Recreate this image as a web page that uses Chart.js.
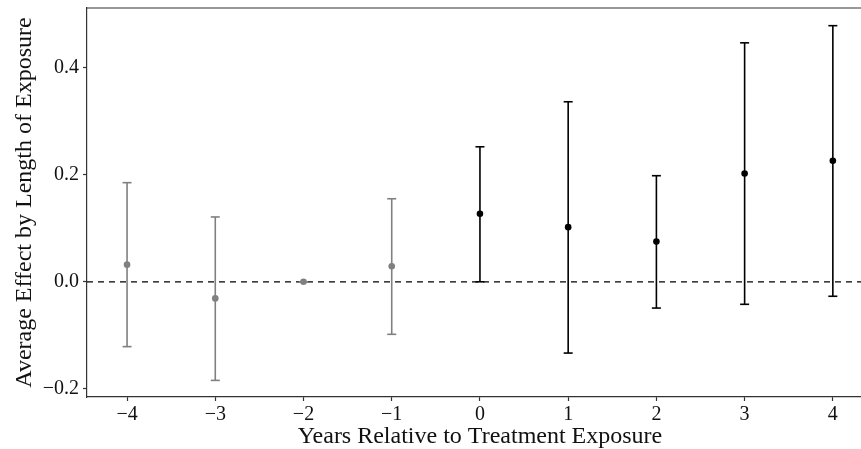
<!DOCTYPE html>
<html>
<head>
<meta charset="utf-8">
<script src="https://cdn.jsdelivr.net/npm/chart.js@4/dist/chart.umd.min.js"></script>
<style>
  html, body { margin: 0; padding: 0; background: #ffffff; overflow: hidden; }
  #wrap { width: 879px; height: 449px; position: relative; }
</style>
</head>
<body>
<div id="wrap"><canvas id="c"></canvas></div>
<script>
// ---- data ----
const years     = [-4, -3, -2, -1, 0, 1, 2, 3, 4];
const estimates = [0.032, -0.031, 0.000, 0.029, 0.127, 0.102, 0.075, 0.202, 0.226];
const lower     = [-0.121, -0.184, 0.000, -0.098, 0.000, -0.133, -0.049, -0.042, -0.027];
const upper     = [0.185, 0.121, 0.000, 0.155, 0.252, 0.336, 0.198, 0.446, 0.478];
const period    = ['pre', 'pre', 'pre', 'pre', 'post', 'post', 'post', 'post', 'post'];
const xTickValues = [-4, -3, -2, -1, 0, 1, 2, 3, 4];
const yTickValues = [-0.2, 0.0, 0.2, 0.4];
const xLabel = 'Years Relative to Treatment Exposure';
const yLabel = 'Average Effect by Length of Exposure';

// ---- styling ----
const GRAY = '#808080';
const BLACK = '#000000';
const AXIS = '#333333';
const FONT = "'Liberation Serif', 'Times New Roman', serif";
const X_MIN = -4.454, X_MAX = 4.454, Y_MIN = -0.215, Y_MAX = 0.511;

function errorBarData(group) {
  const out = [];
  years.forEach((yr, i) => {
    if (period[i] !== group) return;
    out.push({ x: yr, y: lower[i] });
    out.push({ x: yr, y: upper[i] });
    out.push({ x: yr, y: null });
  });
  return out;
}
function pointData(group) {
  return years.map((yr, i) => ({ x: yr, y: estimates[i], g: period[i] }))
              .filter(p => p.g === group)
              .map(p => ({ x: p.x, y: p.y }));
}
const minus = v => String(v).replace('-', '\u2212');
const noPad = s => { s.paddingTop = 0; s.paddingBottom = 0; s.paddingLeft = 0; s.paddingRight = 0; };

const topBorder = {
  id: 'topBorder',
  afterDraw(chart) {
    const { ctx, chartArea } = chart;
    ctx.save();
    ctx.strokeStyle = AXIS;
    ctx.lineWidth = 1.2;
    ctx.beginPath();
    ctx.moveTo(chartArea.left, chartArea.top);
    ctx.lineTo(chartArea.right, chartArea.top);
    ctx.stroke();
    ctx.restore();
  }
};

new Chart(document.getElementById('c'), {
  type: 'scatter',
  data: {
    datasets: [
      {
        type: 'line', order: 10,
        data: [{ x: X_MIN, y: 0 }, { x: X_MAX, y: 0 }],
        borderColor: BLACK, borderWidth: 1.3, borderDash: [6, 5],
        pointRadius: 0, fill: false
      },
      {
        type: 'line', order: 5,
        data: errorBarData('pre'), spanGaps: false,
        borderColor: GRAY, borderWidth: 1.6, fill: false,
        pointStyle: 'line', pointRadius: 4.5, pointBorderWidth: 1.6,
        pointBorderColor: GRAY, pointHoverRadius: 4.5
      },
      {
        type: 'line', order: 5,
        data: errorBarData('post'), spanGaps: false,
        borderColor: BLACK, borderWidth: 1.6, fill: false,
        pointStyle: 'line', pointRadius: 4.5, pointBorderWidth: 1.6,
        pointBorderColor: BLACK, pointHoverRadius: 4.5
      },
      {
        order: 1, data: pointData('pre'),
        pointRadius: 3.3, pointBackgroundColor: GRAY, pointBorderWidth: 0
      },
      {
        order: 1, data: pointData('post'),
        pointRadius: 3.3, pointBackgroundColor: BLACK, pointBorderWidth: 0
      }
    ]
  },
  options: {
    responsive: true, maintainAspectRatio: false, animation: false,
    layout: { padding: { top: 8, right: 0, left: 0, bottom: 0 } },
    plugins: { legend: { display: false }, tooltip: { enabled: false } },
    scales: {
      x: {
        type: 'linear', min: X_MIN, max: X_MAX,
        afterBuildTicks: s => { s.ticks = xTickValues.map(v => ({ value: v })); },
        afterFit: s => { s.height = 52; noPad(s); },
        grid: { drawOnChartArea: false, drawTicks: true, tickLength: 4, tickColor: AXIS, tickWidth: 1.2 },
        border: { display: true, color: AXIS, width: 1.2 },
        ticks: {
          color: '#111111', padding: 4, maxRotation: 0, autoSkip: false,
          font: { family: FONT, size: 20, lineHeight: 1 },
          callback: v => minus(v)
        },
        title: {
          display: true, text: xLabel, color: '#111111',
          font: { family: FONT, size: 24, lineHeight: 1 },
          padding: { top: 0, bottom: 0 }
        }
      },
      y: {
        type: 'linear', min: Y_MIN, max: Y_MAX,
        afterBuildTicks: s => { s.ticks = yTickValues.map(v => ({ value: v })); },
        afterFit: s => { s.width = 87; noPad(s); },
        grid: { drawOnChartArea: false, drawTicks: true, tickLength: 4, tickColor: AXIS, tickWidth: 1.2 },
        border: { display: true, color: AXIS, width: 1.2 },
        ticks: {
          color: '#111111', padding: 4,
          font: { family: FONT, size: 20, lineHeight: 1 },
          callback: v => minus(v.toFixed(1))
        },
        title: {
          display: true, text: yLabel, color: '#111111',
          font: { family: FONT, size: 24, lineHeight: 1 },
          padding: { top: 13, bottom: 0 }
        }
      }
    }
  },
  plugins: [topBorder]
});
</script>
</body>
</html>
